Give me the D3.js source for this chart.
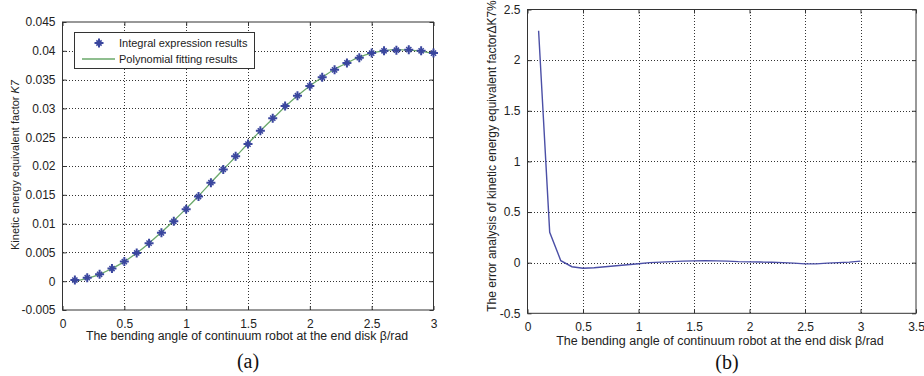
<!DOCTYPE html>
<html>
<head>
<meta charset="utf-8">
<script src="https://cdn.jsdelivr.net/npm/d3@7"></script>
<style>
  body { margin: 0; background: #fff; }
  svg { display: block; font-family: "Liberation Sans", Arial, sans-serif; }
  .tick text { fill: #222; }
</style>
</head>
<body>
<svg id="chart" width="924" height="376"></svg>
<script>
// ---- data: panel (a) ----
const betaA = [0.1, 0.2, 0.3, 0.4, 0.5, 0.6, 0.7, 0.8, 0.9, 1.0,
               1.1, 1.2, 1.3, 1.4, 1.5, 1.6, 1.7, 1.8, 1.9, 2.0,
               2.1, 2.2, 2.3, 2.4, 2.5, 2.6, 2.7, 2.8, 2.9, 3.0];
const integralK = [0.0002, 0.0006, 0.0012, 0.0022, 0.0034, 0.0049, 0.0066, 0.0084, 0.0104, 0.0125,
                   0.0147, 0.0171, 0.0194, 0.0217, 0.0238, 0.0261, 0.0283, 0.0304, 0.0322, 0.0339,
                   0.0354, 0.0367, 0.0379, 0.0388, 0.0396, 0.0400, 0.0401, 0.0402, 0.0400, 0.0396];
const polyK = [0.0000, 0.0005, 0.0012, 0.0022, 0.0034, 0.0049, 0.0066, 0.0085, 0.0105, 0.0126,
               0.0148, 0.0171, 0.0194, 0.0216, 0.0239, 0.0261, 0.0282, 0.0303, 0.0322, 0.0339,
               0.0354, 0.0368, 0.0379, 0.0389, 0.0396, 0.0400, 0.0402, 0.0401, 0.0399, 0.0395];
const yTicksA = [-0.005, 0, 0.005, 0.01, 0.015, 0.02, 0.025, 0.03, 0.035, 0.04, 0.045];
const xTicksA = [0, 0.5, 1, 1.5, 2, 2.5, 3];

// ---- data: panel (b) ----
const betaB = [0.1, 0.2, 0.3, 0.4, 0.5, 0.6, 0.7, 0.8, 0.9, 1.0,
               1.1, 1.2, 1.3, 1.4, 1.5, 1.6, 1.7, 1.8, 1.9, 2.0,
               2.1, 2.2, 2.3, 2.4, 2.5, 2.6, 2.7, 2.8, 2.9, 3.0];
const errorK = [2.29, 0.30, 0.02, -0.04, -0.055, -0.05, -0.04, -0.03, -0.02, -0.01,
                0.0, 0.005, 0.01, 0.015, 0.018, 0.02, 0.018, 0.015, 0.01, 0.008,
                0.006, 0.004, 0.0, -0.005, -0.012, -0.012, -0.005, 0.0, 0.005, 0.015];
const yTicksB = [-0.5, 0, 0.5, 1, 1.5, 2, 2.5];
const xTicksB = [0, 0.5, 1, 1.5, 2, 2.5, 3, 3.5];

const svg = d3.select("#chart");
const fmt = d => d === 0 ? "0" : String(+d.toFixed(4));

// draw a MATLAB style box with grid and inward ticks
function drawFrame(g, x, y, xTicks, yTicks) {
  const [x0, x1] = x.range();
  const [y0, y1] = y.range(); // y0 bottom, y1 top

  // dotted grid
  const grid = g.append("g").attr("class", "grid")
    .attr("shape-rendering", "crispEdges");
  xTicks.slice(1, -1).forEach(t => {
    const px = Math.round(x(t)) + 0.5;
    grid.append("line")
      .attr("x1", px).attr("x2", px).attr("y1", y0).attr("y2", y1)
      .attr("stroke", "#333").attr("stroke-width", 1).attr("stroke-dasharray", "1,2");
  });
  yTicks.slice(1, -1).forEach(t => {
    const py = Math.round(y(t)) + 0.5;
    grid.append("line")
      .attr("x1", x0).attr("x2", x1).attr("y1", py).attr("y2", py)
      .attr("stroke", "#333").attr("stroke-width", 1).attr("stroke-dasharray", "1,2");
  });

  // axes with inward ticks
  g.append("g").attr("transform", `translate(0,${y0})`)
    .call(d3.axisBottom(x).tickValues(xTicks).tickSizeInner(-4).tickSizeOuter(0).tickPadding(9).tickFormat(fmt));
  g.append("g").attr("transform", `translate(0,${y1})`)
    .call(d3.axisTop(x).tickValues(xTicks).tickSizeInner(-4).tickSizeOuter(0).tickFormat(""));
  g.append("g").attr("transform", `translate(${x0},0)`)
    .call(d3.axisLeft(y).tickValues(yTicks).tickSizeInner(-4).tickSizeOuter(0).tickPadding(7).tickFormat(fmt));
  g.append("g").attr("transform", `translate(${x1},0)`)
    .call(d3.axisRight(y).tickValues(yTicks).tickSizeInner(-4).tickSizeOuter(0).tickFormat(""));

  g.selectAll(".domain").remove();
  g.selectAll(".tick line").attr("stroke", "#333");
  g.selectAll(".tick text").attr("font-size", 12).attr("font-family", "Liberation Sans, Arial, sans-serif");

  g.append("rect")
    .attr("x", x0).attr("y", y1).attr("width", x1 - x0).attr("height", y0 - y1)
    .attr("fill", "none").attr("stroke", "#333").attr("stroke-width", 1);
}

// star marker (MATLAB '*')
function star(sel, color) {
  sel.append("path")
    .attr("d", "M-4.5,0H4.5M0,-4.5V4.5")
    .attr("stroke", color).attr("stroke-width", 2);
  sel.append("path")
    .attr("d", "M-2.6,-2.6L2.6,2.6M-2.6,2.6L2.6,-2.6")
    .attr("stroke", color).attr("stroke-width", 1.5);
}

// ---------- panel (a) ----------
const xA = d3.scaleLinear().domain([0, 3]).range([62.5, 433.5]);
const yA = d3.scaleLinear().domain([-0.005, 0.045]).range([310, 22]);
const gA = svg.append("g");
drawFrame(gA, xA, yA, xTicksA, yTicksA);

const fitLine = d3.line().x((d, i) => xA(betaA[i])).y(d => yA(d)).curve(d3.curveCatmullRom);
gA.append("path").datum(polyK)
  .attr("d", fitLine).attr("fill", "none").attr("stroke", "#6aa86a").attr("stroke-width", 1.3);

gA.selectAll(".pt").data(integralK).join("g")
  .attr("class", "pt")
  .attr("transform", (d, i) => `translate(${xA(betaA[i])},${yA(d)})`)
  .each(function() { star(d3.select(this), "#3a469e"); });

// legend
const leg = gA.append("g");
leg.append("rect").attr("x", 74.5).attr("y", 32.5).attr("width", 180).attr("height", 36)
  .attr("fill", "#fff").attr("stroke", "#333");
star(leg.append("g").attr("transform", "translate(99,43)"), "#3a469e");
leg.append("line").attr("x1", 82).attr("x2", 115).attr("y1", 59).attr("y2", 59)
  .attr("stroke", "#6aa86a").attr("stroke-width", 1.3);
leg.append("text").attr("x", 119).attr("y", 47).attr("font-size", 11).attr("fill", "#222")
  .text("Integral expression results");
leg.append("text").attr("x", 119).attr("y", 63).attr("font-size", 11).attr("fill", "#222")
  .text("Polynomial fitting results");

gA.append("text").attr("x", 247).attr("y", 340).attr("text-anchor", "middle")
  .attr("font-size", 12.3).attr("fill", "#222")
  .text("The bending angle of continuum robot at the end disk β/rad");
gA.append("text").attr("transform", "translate(19,165) rotate(-90)").attr("text-anchor", "middle")
  .attr("font-size", 11).attr("fill", "#222")
  .html('Kinetic energy equivalent factor <tspan font-style="italic">K7</tspan>');
gA.append("text").attr("x", 248).attr("y", 368).attr("text-anchor", "middle")
  .attr("font-family", "Liberation Serif, Times New Roman, serif").attr("font-size", 20).attr("fill", "#111")
  .text("(a)");

// ---------- panel (b) ----------
const xB = d3.scaleLinear().domain([0, 3.5]).range([527.5, 916]);
const yB = d3.scaleLinear().domain([-0.5, 2.5]).range([313.3, 9.5]);
const gB = svg.append("g");
drawFrame(gB, xB, yB, xTicksB, yTicksB);

const errLine = d3.line().x((d, i) => xB(betaB[i])).y(d => yB(d));
gB.append("path").datum(errorK)
  .attr("d", errLine).attr("fill", "none").attr("stroke", "#4b4fa6").attr("stroke-width", 1.4);

gB.append("text").attr("x", 720).attr("y", 345).attr("text-anchor", "middle")
  .attr("font-size", 12.5).attr("fill", "#222")
  .text("The bending angle of continuum robot at the end disk β/rad");
gB.append("text").attr("transform", "translate(496,156) rotate(-90)").attr("text-anchor", "middle")
  .attr("font-size", 12).attr("fill", "#222")
  .text("The error analysis of kinetic energy equivalent factorΔK7%");
gB.append("text").attr("x", 727).attr("y", 369).attr("text-anchor", "middle")
  .attr("font-family", "Liberation Serif, Times New Roman, serif").attr("font-size", 20).attr("fill", "#111")
  .text("(b)");
</script>
</body>
</html>
